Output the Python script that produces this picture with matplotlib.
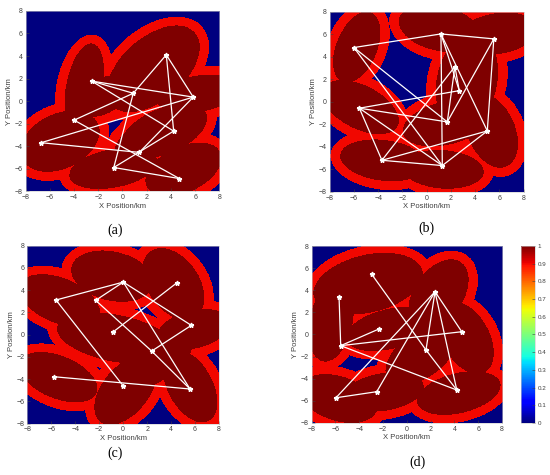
import numpy as np
import matplotlib.pyplot as plt

plt.rcParams['font.family'] = ['Liberation Sans', 'DejaVu Sans']

# threat ellipses for each panel: centre x, centre y, semi-major, semi-minor, angle (deg), in km
ell_a = [(-3.2, 1.2, 3.9, 1.5, 80), (-5.2, -3.6, 3.5, 2.4, 30), (2.5, 2.8, 4.7, 2.7, 45),
         (6.2, 0.6, 3.5, 1.6, 10), (3.4, -2.7, 3.8, 2.0, 25), (-0.8, -6.0, 3.7, 1.7, 12),
         (5.0, -6.1, 3.4, 2.0, 28), (-1.6, 0.4, 2.4, 1.5, 35), (0.5, -4.0, 1.8, 1.0, 60)]
ell_b = [(-5.8, 4.8, 3.3, 1.7, 70), (-5.5, -0.5, 3.5, 1.9, -30), (-3.6, -5.2, 3.6, 1.8, -8),
         (1.3, -6.0, 3.4, 1.7, -5), (5.3, -2.6, 3.4, 2.0, -70), (1.6, -1.9, 3.7, 1.9, 15),
         (1.0, 6.5, 3.4, 2.0, -15), (5.8, 6.0, 3.4, 1.8, 10), (3.3, 1.8, 4.3, 2.5, 80)]
ell_c = [(-5.3, 3.1, 3.6, 2.0, -25), (-0.9, 5.3, 3.5, 2.2, -15), (4.2, 4.6, 3.5, 2.2, -60),
         (-0.6, -0.3, 5.0, 2.1, -12), (5.9, 0.5, 3.1, 1.7, 15), (-5.4, -3.8, 3.5, 1.9, -25),
         (0.2, -5.0, 3.5, 2.0, 55), (5.6, -4.6, 3.5, 1.9, -65), (2.8, -2.0, 3.7, 2.0, 40)]
ell_d = [(-3.3, 4.6, 4.7, 2.6, 15), (-6.4, 1.2, 3.7, 1.8, 80), (-1.5, 0.5, 3.8, 1.8, 15),
         (2.6, 3.6, 3.5, 2.1, 60), (4.9, -0.3, 3.5, 2.0, -65), (1.2, -1.8, 3.6, 2.0, 40),
         (-5.8, -5.8, 3.4, 2.0, -20), (-2.0, -5.2, 3.4, 1.7, 10), (4.3, -5.3, 3.6, 1.8, 15)]

# waypoints (km) and the segments joining them
xa = [-2.55, 3.62, 5.85, 0.89, -4.0, -6.73, 1.39, 4.23, -0.72, 4.7]
ya = [1.78, 4.11, 0.36, 0.70, -1.68, -3.68, -4.54, -2.65, -5.88, -6.86]
ea = [(0, 2), (0, 7), (0, 3), (1, 2), (1, 7), (1, 3), (2, 5), (2, 6), (3, 4), (3, 8),
      (4, 9), (5, 6), (8, 9), (8, 7)]

xb = [-6.0, 1.18, 5.54, 2.33, 2.69, -5.55, 1.7, 5.0, -3.69, 1.29]
yb = [4.83, 6.04, 5.6, 3.14, 1.0, -0.56, -1.78, -2.58, -5.19, -5.66]
eb = [(0, 1), (1, 2), (2, 7), (0, 6), (0, 9), (1, 9), (1, 7), (1, 4), (2, 6), (3, 6),
      (3, 8), (3, 4), (5, 4), (5, 6), (5, 8), (5, 9), (8, 9), (8, 7), (9, 7)]

xc = [-5.61, 0.01, -2.3, 4.49, -0.85, 5.69, 2.38, -5.75, 0.01, 5.58]
yc = [3.12, 4.73, 3.09, 4.67, 0.24, 0.84, -1.47, -3.78, -4.61, -4.88]
ec = [(0, 1), (0, 8), (1, 2), (1, 5), (1, 9), (2, 6), (6, 9), (5, 6), (3, 4), (7, 9)]

xd = [-2.95, -5.7, 2.37, -2.34, 4.62, -5.56, 1.61, 4.2, -2.53, -5.96]
yd = [5.44, 3.42, 3.87, 0.5, 0.25, -1.01, -1.4, -5.02, -5.17, -5.72]
ed = [(0, 6), (6, 7), (1, 5), (5, 3), (5, 4), (5, 7), (2, 4), (2, 6), (2, 7), (2, 9),
      (2, 8), (8, 9)]

ticks = [-8, -6, -4, -2, 0, 2, 4, 6, 8]
buffer_km = 0.8
buffer_val = 0.9


def threat_field(ells, n=900):
    g = np.linspace(-8, 8, n)
    X, Y = np.meshgrid(g, g)
    Z = np.zeros_like(X)
    for cx, cy, a, b, ang in ells:
        t = np.deg2rad(ang)
        u = (X - cx) * np.cos(t) + (Y - cy) * np.sin(t)
        v = -(X - cx) * np.sin(t) + (Y - cy) * np.cos(t)
        inner = (u / a) ** 2 + (v / b) ** 2 <= 1
        outer = (u / (a + buffer_km)) ** 2 + (v / (b + buffer_km)) ** 2 <= 1
        Z = np.maximum(Z, np.where(inner, 1.0, np.where(outer, buffer_val, 0.0)))
    return Z


fig = plt.figure(figsize=(5.5, 4.75), dpi=100)
panels = [
    ([0.0467, 0.597, 0.352, 0.380], ell_a, xa, ya, ea, '(a)', (0.209, 0.516)),
    ([0.5994, 0.596, 0.3527, 0.379], ell_b, xb, yb, eb, '(b)', (0.776, 0.520)),
    ([0.0497, 0.108, 0.3485, 0.3747], ell_c, xc, yc, ec, '(c)', (0.209, 0.046)),
    ([0.5667, 0.1095, 0.346, 0.3726], ell_d, xd, yd, ed, '(d)', (0.760, 0.027)),
]

for rect, ells, px, py, edges, lab, lpos in panels:
    ax = fig.add_axes(rect)
    im = ax.imshow(threat_field(ells), extent=[-8, 8, -8, 8], origin='lower', cmap='jet',
                   vmin=0, vmax=1, interpolation='nearest', aspect='auto')
    for i, j in edges:
        ax.plot([px[i], px[j]], [py[i], py[j]], color='white', lw=0.9)
    ax.plot(px, py, '*', color='white', ms=3.5, ls='none')
    ax.set_xlim(-8, 8)
    ax.set_ylim(-8, 8)
    ax.set_xticks(ticks)
    ax.set_yticks(ticks)
    ax.tick_params(labelsize=5, colors='#404040', direction='in', length=2, width=0.4, pad=2)
    for s in ax.spines.values():
        s.set_linewidth(0.4)
        s.set_color('#c8c8c8')
    ax.set_xlabel('X Position/km', fontsize=5.5, color='#404040', labelpad=1)
    ax.set_ylabel('Y Position/km', fontsize=5.5, color='#404040', labelpad=1)
    fig.text(lpos[0], lpos[1], lab, fontsize=10, family='Liberation Serif',
             ha='center', va='center')

cax = fig.add_axes([0.947, 0.1095, 0.026, 0.3726])
cb = fig.colorbar(im, cax=cax, ticks=np.arange(0, 1.01, 0.1))
cb.ax.set_yticklabels(['0', '0.1', '0.2', '0.3', '0.4', '0.5', '0.6', '0.7', '0.8', '0.9', '1'])
cb.ax.tick_params(labelsize=4.5, colors='#404040', direction='in', length=2, width=0.4, pad=2)
cb.outline.set_linewidth(0.4)
cb.outline.set_edgecolor('#c8c8c8')

fig.savefig('out.png', dpi=100)
